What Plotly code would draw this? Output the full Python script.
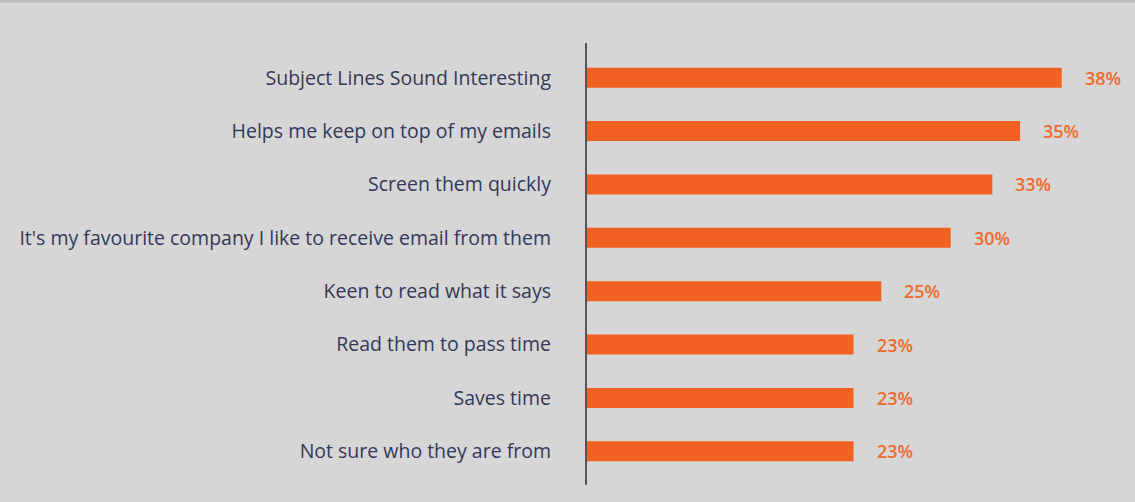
import plotly.graph_objects as go

categories = [
    "Subject Lines Sound Interesting",
    "Helps me keep on top of my emails",
    "Screen them quickly",
    "It's my favourite company I like to receive email from them",
    "Keen to read what it says",
    "Read them to pass time",
    "Saves time",
    "Not sure who they are from",
]
values = [38, 35, 33, 30, 25, 23, 23, 23]
value_labels = [f"{v}%" for v in values]

BAR = "#f16122"
LABEL_ORANGE = "#ef6b2c"
NAVY = "#343858"
BG = "#d6d6d6"

fig = go.Figure()
fig.add_trace(go.Bar(
    y=categories,
    x=values,
    orientation="h",
    marker=dict(color=BAR, line=dict(width=0)),
    width=0.375,
    hoverinfo="skip",
))

for c, v, t in zip(categories, values, value_labels):
    fig.add_annotation(
        x=v, y=c, text=t, showarrow=False, xanchor="left", yanchor="middle",
        xshift=21, font=dict(family="Open Sans", size=18, color=LABEL_ORANGE, weight=600),
    )

# vertical axis line
fig.add_shape(type="line", xref="paper", yref="paper", x0=0, x1=0, y0=-0.016, y1=1.019,
              line=dict(color="#555555", width=2))
# top border
fig.add_shape(type="line", xref="paper", yref="paper", x0=-1.2, x1=1.1, y0=1.117, y1=1.117,
              line=dict(color="#b6bbc0", width=3))

fig.update_layout(
    width=1135, height=502,
    margin=dict(l=586, r=15, t=51, b=24),
    paper_bgcolor=BG, plot_bgcolor=BG,
    showlegend=False,
    bargap=0.625,
    xaxis=dict(range=[3.72, 42.2], visible=False, showgrid=False, zeroline=False),
    yaxis=dict(
        categoryorder="array", categoryarray=categories, autorange="reversed",
        showgrid=False, zeroline=False, showline=False, ticks="",
        ticklabelstandoff=34,
        tickfont=dict(family="Open Sans", size=19.5, color=NAVY),
    ),
)

fig.write_html("out.html")
